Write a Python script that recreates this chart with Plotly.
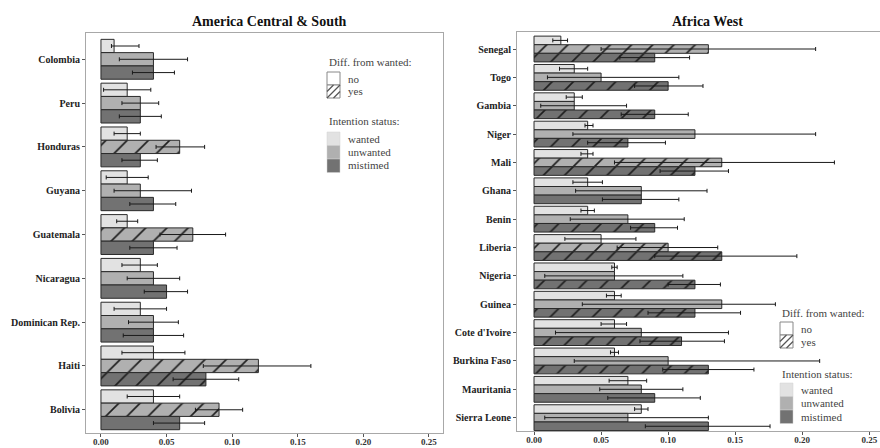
import plotly.graph_objects as go

# ---------------- data ----------------
am_countries = ["Colombia", "Peru", "Honduras", "Guyana", "Guatemala", "Nicaragua",
                "Dominican Rep.", "Haiti", "Bolivia"]
am_wanted = [0.01, 0.02, 0.02, 0.02, 0.02, 0.03, 0.03, 0.04, 0.04]
am_wanted_lo = [0.008, 0.002, 0.010, 0.004, 0.012, 0.016, 0.010, 0.016, 0.020]
am_wanted_hi = [0.029, 0.038, 0.030, 0.036, 0.028, 0.043, 0.050, 0.064, 0.060]
am_unwanted = [0.04, 0.03, 0.06, 0.03, 0.07, 0.04, 0.04, 0.12, 0.09]
am_unwanted_lo = [0.014, 0.016, 0.042, 0.010, 0.045, 0.020, 0.021, 0.078, 0.072]
am_unwanted_hi = [0.066, 0.044, 0.079, 0.069, 0.095, 0.060, 0.059, 0.160, 0.108]
am_unwanted_diff = ["no", "no", "yes", "no", "yes", "no", "no", "yes", "yes"]
am_mistimed = [0.04, 0.03, 0.03, 0.04, 0.04, 0.05, 0.04, 0.08, 0.06]
am_mistimed_lo = [0.024, 0.014, 0.016, 0.022, 0.022, 0.033, 0.017, 0.055, 0.040]
am_mistimed_hi = [0.056, 0.046, 0.043, 0.057, 0.058, 0.066, 0.063, 0.105, 0.079]
am_mistimed_diff = ["no", "no", "no", "no", "no", "no", "no", "yes", "no"]

af_countries = ["Senegal", "Togo", "Gambia", "Niger", "Mali", "Ghana", "Benin", "Liberia",
                "Nigeria", "Guinea", "Cote d'Ivoire", "Burkina Faso", "Mauritania", "Sierra Leone"]
af_wanted = [0.02, 0.03, 0.03, 0.04, 0.04, 0.04, 0.04, 0.05, 0.06, 0.06, 0.06, 0.06, 0.07, 0.08]
af_wanted_lo = [0.014, 0.019, 0.024, 0.038, 0.035, 0.029, 0.035, 0.023, 0.058, 0.054, 0.050, 0.057, 0.056, 0.075]
af_wanted_hi = [0.025, 0.040, 0.036, 0.044, 0.044, 0.051, 0.045, 0.076, 0.062, 0.065, 0.069, 0.063, 0.084, 0.085]
af_unwanted = [0.13, 0.05, 0.03, 0.12, 0.14, 0.08, 0.07, 0.10, 0.06, 0.14, 0.08, 0.10, 0.08, 0.07]
af_unwanted_lo = [0.050, 0.010, 0.005, 0.029, 0.060, 0.031, 0.027, 0.062, 0.008, 0.036, 0.016, 0.030, 0.049, 0.008]
af_unwanted_hi = [0.210, 0.108, 0.069, 0.210, 0.224, 0.129, 0.112, 0.137, 0.111, 0.180, 0.145, 0.213, 0.111, 0.130]
af_unwanted_diff = ["yes", "no", "no", "no", "yes", "no", "no", "yes", "no", "no", "no", "no", "no", "no"]
af_mistimed = [0.09, 0.10, 0.09, 0.07, 0.12, 0.08, 0.09, 0.14, 0.12, 0.12, 0.11, 0.13, 0.09, 0.13]
af_mistimed_lo = [0.064, 0.075, 0.065, 0.040, 0.094, 0.051, 0.072, 0.090, 0.100, 0.085, 0.079, 0.096, 0.055, 0.083]
af_mistimed_hi = [0.116, 0.126, 0.115, 0.098, 0.145, 0.108, 0.107, 0.196, 0.139, 0.154, 0.142, 0.164, 0.124, 0.176]
af_mistimed_diff = ["yes", "yes", "yes", "yes", "yes", "no", "yes", "yes", "yes", "yes", "yes", "yes", "no", "no"]
af_wanted_diff = ["no"] * len(af_countries)
am_wanted_diff = ["no"] * len(am_countries)

x_ticks = [0.00, 0.05, 0.10, 0.15, 0.20, 0.25]
x_ticklabels = ["0.00", "0.05", "0.10", "0.15", "0.20", "0.25"]

# ---------------- style ----------------
W, H = 880, 448
COL = {"wanted": "#e2e2e2", "unwanted": "#b0b0b0", "mistimed": "#727272"}
SERIF = "Liberation Serif"


def px(x):
    return x / W


def py(y):
    return 1 - y / H


fig = go.Figure()


def add_bar(name, cats, vals, lo, hi, diff, xa, ya):
    fig.add_trace(go.Bar(
        y=cats, x=vals, orientation="h", name=name, showlegend=False,
        xaxis=xa, yaxis=ya,
        marker=dict(color=COL[name], line=dict(color="#2a2a2a", width=1),
                    pattern=dict(shape=["/" if d == "yes" else "" for d in diff],
                                 fgcolor="#1e1e1e", bgcolor=COL[name],
                                 size=15, solidity=0.11, fillmode="replace")),
        error_x=dict(type="data", symmetric=False,
                     array=[h - v for h, v in zip(hi, vals)],
                     arrayminus=[v - l for v, l in zip(vals, lo)],
                     color="#1a1a1a", thickness=1, width=2),
    ))


add_bar("wanted", am_countries, am_wanted, am_wanted_lo, am_wanted_hi, am_wanted_diff, "x", "y")
add_bar("unwanted", am_countries, am_unwanted, am_unwanted_lo, am_unwanted_hi, am_unwanted_diff, "x", "y")
add_bar("mistimed", am_countries, am_mistimed, am_mistimed_lo, am_mistimed_hi, am_mistimed_diff, "x", "y")
add_bar("wanted", af_countries, af_wanted, af_wanted_lo, af_wanted_hi, af_wanted_diff, "x2", "y2")
add_bar("unwanted", af_countries, af_unwanted, af_unwanted_lo, af_unwanted_hi, af_unwanted_diff, "x2", "y2")
add_bar("mistimed", af_countries, af_mistimed, af_mistimed_lo, af_mistimed_hi, af_mistimed_diff, "x2", "y2")

axis_common = dict(showgrid=False, zeroline=False, showline=True, linecolor="#a8a8a8",
                   linewidth=1, mirror=True, ticks="outside", ticklen=3, tickcolor="#555",
                   tickwidth=1, automargin=False)
xfont = dict(family=SERIF, size=9, color="#333", weight="bold")
yfont = dict(family=SERIF, size=10, color="#222", weight="bold")

fig.update_layout(
    template="none",
    width=W, height=H, margin=dict(l=0, r=0, t=0, b=0, autoexpand=False),
    paper_bgcolor="white", plot_bgcolor="white", showlegend=False,
    barmode="group", bargap=0.09, bargroupgap=0,
    xaxis=dict(domain=[px(86), px(443)], range=[-0.0114, 0.2607], anchor="y",
               tickvals=x_ticks, ticktext=x_ticklabels, tickfont=xfont,
               ticklabelstandoff=-3, **axis_common),
    yaxis=dict(domain=[py(433), py(33)], range=[8.53, -0.6], anchor="x",
               type="category", tickfont=yfont, **axis_common),
    xaxis2=dict(domain=[px(517), 1.0], range=[-0.0127, 0.258], anchor="y2",
                tickvals=x_ticks, ticktext=x_ticklabels, tickfont=xfont,
                ticklabelstandoff=-3, **axis_common),
    yaxis2=dict(domain=[py(431), py(32)], range=[13.47, -0.6], anchor="x2",
                type="category", tickfont=yfont, **axis_common),
)

# titles
for txt, x in [("America Central & South", 269), ("Africa West", 707)]:
    fig.add_annotation(text=txt, x=px(x), y=py(21), xref="paper", yref="paper",
                       showarrow=False, xanchor="center", yanchor="middle",
                       font=dict(family=SERIF, size=14, color="#111", weight="bold"))

# legends (drawn as keys + text)
LEG_FONT = dict(family=SERIF, size=11, color="#444")


def legend(x0, y_title1, y_no, y_title2, y_keys, key=13):
    shapes = []
    fig.add_annotation(text="Diff. from wanted:", x=px(x0), y=py(y_title1), xref="paper",
                       yref="paper", showarrow=False, xanchor="left", yanchor="middle",
                       font=LEG_FONT)
    # no box
    shapes.append(dict(type="rect", xref="paper", yref="paper", x0=px(x0), x1=px(x0 + key),
                       y0=py(y_no + key), y1=py(y_no), fillcolor="white",
                       line=dict(color="#888", width=1)))
    # yes box
    yb = y_no + key
    shapes.append(dict(type="rect", xref="paper", yref="paper", x0=px(x0), x1=px(x0 + key),
                       y0=py(yb + key), y1=py(yb), fillcolor="white",
                       line=dict(color="#888", width=1)))
    h = key / 2
    for (ax, ay, bx, by) in [(0, key, key, 0), (0, h, h, 0), (h, key, key, h)]:
        shapes.append(dict(type="line", xref="paper", yref="paper",
                           x0=px(x0 + ax), y0=py(yb + ay), x1=px(x0 + bx), y1=py(yb + by),
                           line=dict(color="#555", width=1.2)))
    fig.add_annotation(text="no", x=px(x0 + key + 6), y=py(y_no + key / 2), xref="paper",
                       yref="paper", showarrow=False, xanchor="left", yanchor="middle",
                       font=LEG_FONT)
    fig.add_annotation(text="yes", x=px(x0 + key + 6), y=py(yb + key / 2), xref="paper",
                       yref="paper", showarrow=False, xanchor="left", yanchor="middle",
                       font=LEG_FONT)
    fig.add_annotation(text="Intention status:", x=px(x0), y=py(y_title2), xref="paper",
                       yref="paper", showarrow=False, xanchor="left", yanchor="middle",
                       font=LEG_FONT)
    for i, nm in enumerate(["wanted", "unwanted", "mistimed"]):
        top = y_keys + i * (key + 0.5)
        shapes.append(dict(type="rect", xref="paper", yref="paper", x0=px(x0),
                           x1=px(x0 + key), y0=py(top + key + 0.5), y1=py(top),
                           fillcolor=COL[nm], line=dict(color="#d0d0d0", width=0.5)))
        fig.add_annotation(text=nm, x=px(x0 + key + 6), y=py(top + key / 2), xref="paper",
                           yref="paper", showarrow=False, xanchor="left", yanchor="middle",
                           font=LEG_FONT)
    for s in shapes:
        fig.add_shape(**s)


legend(327, 62, 72, 121, 132)
legend(780, 313, 322, 374, 383)

fig.write_html("out.html", config={"displayModeBar": False})

# remove the browser's default page margin so the figure fills the window exactly
with open("out.html", encoding="utf-8") as f:
    html = f.read()
html = html.replace("<head>", "<head><style>html,body{margin:0;padding:0;overflow:hidden;}</style>", 1)
with open("out.html", "w", encoding="utf-8") as f:
    f.write(html)
